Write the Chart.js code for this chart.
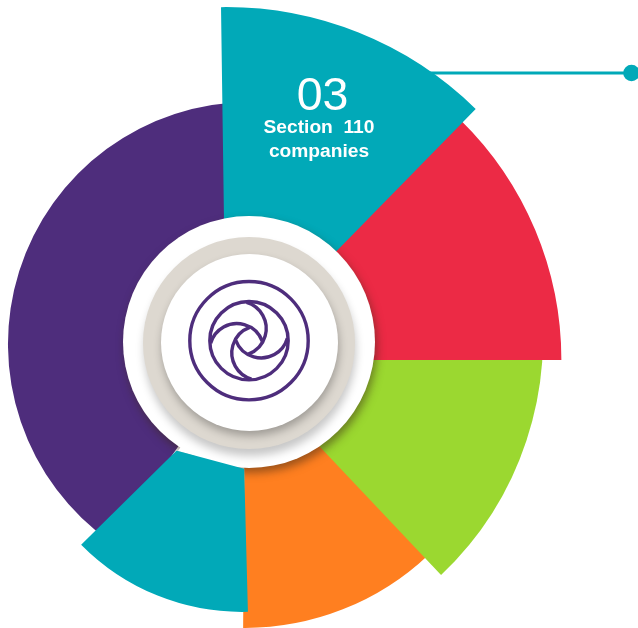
<!DOCTYPE html>
<html>
<head>
<meta charset="utf-8">
<title>Section 110 companies</title>
<style>
  html, body { margin: 0; padding: 0; background: #ffffff; }
  canvas { display: block; }
</style>
<script src="https://cdn.jsdelivr.net/npm/chart.js@4/dist/chart.umd.js"></script>
</head>
<body>
<canvas id="wheel" width="638" height="628"></canvas>
<script>
// Slices run clockwise from twelve o'clock.
const sliceLabels = ['03', '04', '05', '06', '07', '08'];
const sliceValues = [215, 202.4, 196, 160.8, 136.1, 145.8];
const sliceAngles = [45.2, 45.6, 56.6, 43.8, 46.9, 145];
const sliceColors = ['#01A9B8', '#EC2A45', '#9BD830', '#FF7F20', '#01A9B8', '#4E2D7C'];

// Each wedge is pulled away from the hub and turned a little, pinwheel style,
// so that neighbours overlap.
const wedgeShift = [[-23, 22], [-23.6, 18], [-31.5, -3.5], [-4, 19], [-7, 44], [1, 2]];
const wedgeTurn = [0, 0, -10, -10, -11.9, -22.3];

// Painted beneath the hub, in this order.
const lowerLayers = [3, 5, 2, 1, 0];
const upperLayer = 4;

const calloutNumber = '03';
const calloutLines = ['Section  110', 'companies'];

const PURPLE = '#4E2D7C';
const TEAL = '#01A9B8';

function paintWedge(ctx, arc, i, cx, cy) {
  ctx.save();
  ctx.translate(cx + wedgeShift[i][0], cy + wedgeShift[i][1]);
  ctx.rotate(wedgeTurn[i] * Math.PI / 180);
  ctx.translate(-cx, -cy);
  arc.draw(ctx);
  ctx.restore();
}

function shadedDisc(ctx, x, y, r, fill, dx, dy, blur, shade) {
  ctx.save();
  ctx.shadowColor = shade;
  ctx.shadowOffsetX = dx;
  ctx.shadowOffsetY = dy;
  ctx.shadowBlur = blur;
  ctx.fillStyle = fill;
  ctx.beginPath();
  ctx.arc(x, y, r, 0, Math.PI * 2);
  ctx.fill();
  ctx.restore();
}

function drawSwirl(ctx, x, y) {
  ctx.save();
  ctx.strokeStyle = PURPLE;
  ctx.lineWidth = 3.4;
  ctx.translate(x, y);
  ctx.beginPath();
  ctx.arc(0, 0, 59.2, 0, Math.PI * 2);
  ctx.stroke();
  ctx.beginPath();
  ctx.arc(0, 0, 39.2, 0, Math.PI * 2);
  ctx.stroke();
  for (let k = 0; k < 4; k++) {
    ctx.beginPath();
    ctx.arc(-10, -12.2, 27.2, -74 * Math.PI / 180, 70 * Math.PI / 180);
    ctx.stroke();
    ctx.rotate(Math.PI / 2);
  }
  ctx.restore();
}

const pinwheel = {
  id: 'pinwheel',
  beforeDatasetDraw(chart, args) {
    const ctx = chart.ctx;
    const scale = chart.scales.r;
    const cx = scale.xCenter;
    const cy = scale.yCenter;
    const arcs = args.meta.data;

    // Leader line with its end dot, running out from behind the top wedge.
    ctx.save();
    ctx.strokeStyle = TEAL;
    ctx.fillStyle = TEAL;
    ctx.lineWidth = 3;
    ctx.beginPath();
    ctx.moveTo(cx + 150, 73);
    ctx.lineTo(631, 73);
    ctx.stroke();
    ctx.beginPath();
    ctx.arc(631.5, 73, 8.3, 0, Math.PI * 2);
    ctx.fill();
    ctx.restore();

    lowerLayers.forEach(i => paintWedge(ctx, arcs[i], i, cx, cy));

    // Hub: white plate, beige ring, white face.
    shadedDisc(ctx, cx, cy, 126, '#ffffff', 2, 5, 9, 'rgba(60,40,20,0.5)');
    ctx.save();
    ctx.fillStyle = '#ffffff';
    ctx.beginPath();
    ctx.moveTo(cx, cy);
    ctx.lineTo(cx - 71, cy + 109);
    ctx.lineTo(cx - 50, cy + 115);
    ctx.closePath();
    ctx.fill();
    ctx.restore();
    shadedDisc(ctx, cx, cy + 1, 106, '#DDD8D0', 1, 7, 9, 'rgba(0,0,0,0.22)');
    shadedDisc(ctx, cx + 0.5, cy + 0.5, 88.5, '#ffffff', 1, 5, 8, 'rgba(0,0,0,0.28)');
    drawSwirl(ctx, cx, cy - 1.3);

    // The lower-left wedge sits over the plate, trimmed along a straight inner edge.
    ctx.save();
    ctx.beginPath();
    ctx.moveTo(cx - 4 + 400, cy + 127 + 107.5);
    ctx.lineTo(cx - 71 - 400, cy + 109 - 107.5);
    ctx.lineTo(cx - 471, cy + 700);
    ctx.lineTo(cx + 396, cy + 700);
    ctx.closePath();
    ctx.clip();
    paintWedge(ctx, arcs[upperLayer], upperLayer, cx, cy);
    ctx.restore();

    // Caption on the top wedge.
    ctx.save();
    ctx.fillStyle = '#ffffff';
    ctx.textAlign = 'center';
    ctx.textBaseline = 'alphabetic';
    ctx.font = '46.5px "Liberation Sans", Arial, sans-serif';
    ctx.fillText(calloutNumber, 322.5, 109.5);
    ctx.font = 'bold 19.2px "Liberation Sans", Arial, sans-serif';
    ctx.fillText(calloutLines[0], 319, 132.5);
    ctx.fillText(calloutLines[1], 319, 157);
    ctx.restore();

    return false;
  }
};

new Chart(document.getElementById('wheel'), {
  type: 'polarArea',
  data: {
    labels: sliceLabels,
    datasets: [{
      data: sliceValues,
      angle: sliceAngles,
      backgroundColor: sliceColors,
      borderWidth: 0
    }]
  },
  options: {
    responsive: false,
    animation: false,
    layout: { padding: { right: 140, top: 56 } },
    scales: {
      r: {
        display: false,
        min: 0,
        max: 150,
        startAngle: -0.8
      }
    },
    plugins: {
      legend: { display: false },
      tooltip: { enabled: false }
    }
  },
  plugins: [pinwheel]
});
</script>
</body>
</html>
